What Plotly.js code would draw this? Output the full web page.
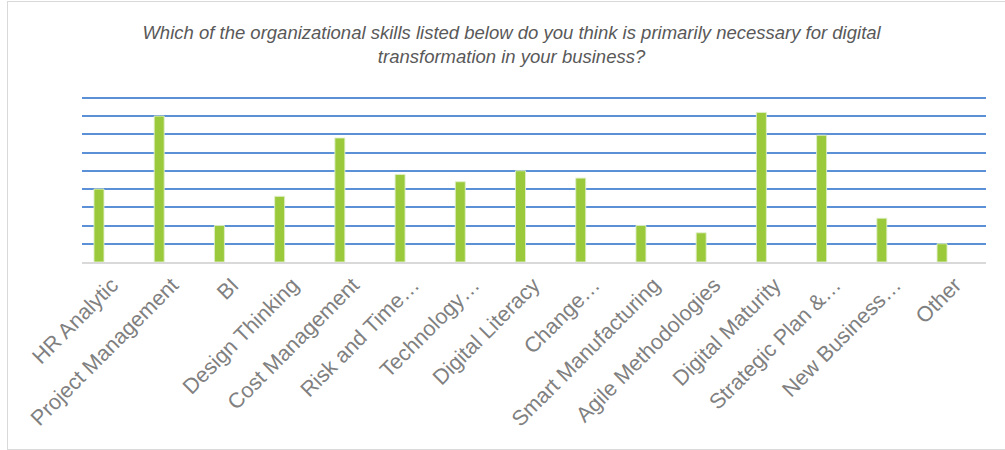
<!DOCTYPE html>
<html>
<head>
<meta charset="utf-8">
<script src="https://cdn.plot.ly/plotly-3.0.1.min.js"></script>
<style>
  html, body { margin: 0; padding: 0; background: #ffffff; }
  #frame { position: absolute; left: 7px; top: 1px; width: 1020px; height: 449px; border: 1.5px solid #d9d9d9; box-sizing: border-box; }
  #chart { position: absolute; left: 0; top: 0; width: 1005px; height: 450px; }
</style>
</head>
<body>
<div id="frame"></div>
<div id="chart"></div>
<script>
const categories = [
  "HR Analytic", "Project Management", "BI", "Design Thinking", "Cost Management",
  "Risk and Time\u2026", "Technology\u2026", "Digital Literacy", "Change\u2026",
  "Smart Manufacturing", "Agile Methodologies", "Digital Maturity",
  "Strategic Plan &\u2026", "New Business\u2026", "Other"
];
const values = [4.0, 8.0, 2.0, 3.6, 6.8, 4.8, 4.4, 5.0, 4.6, 2.0, 1.6, 8.2, 6.95, 2.4, 1.0];
const gridValues = [1, 2, 3, 4, 5, 6, 7, 8, 9];
const titleText = "Which of the organizational skills listed below do you think is primarily necessary for digital<br>transformation in your business?";

const trace = {
  type: "bar",
  x: categories,
  y: values,
  marker: { color: "#9aca3c", line: { color: "rgba(225,240,200,0.9)", width: 1 } },
  hoverinfo: "x+y"
};

const layout = {
  width: 1005,
  height: 450,
  paper_bgcolor: "rgba(0,0,0,0)",
  plot_bgcolor: "rgba(0,0,0,0)",
  margin: { l: 82, r: 19, t: 95.5, b: 188 },
  bargap: 0.834,
  showlegend: false,
  title: {
    text: titleText,
    font: { family: "Liberation Sans, Arial, sans-serif", size: 18.5, color: "#595959", style: "italic" },
    x: 0.509, xref: "container", xanchor: "center",
    y: 0.913, yref: "container", yanchor: "top"
  },
  xaxis: {
    type: "category",
    range: [-0.282, 14.73],
    tickangle: -45,
    ticklabelshift: 13,
    showline: true, linecolor: "#d9d9d9", linewidth: 2,
    showgrid: false, ticks: "",
    tickfont: { family: "Liberation Sans, Arial, sans-serif", size: 21.5, color: "#808080" },
    fixedrange: true
  },
  yaxis: {
    range: [0, 9.1],
    tickmode: "array",
    tickvals: gridValues,
    showticklabels: false,
    showgrid: true, gridcolor: "#5b8fd6", gridwidth: 2,
    zeroline: false, showline: false, ticks: "",
    fixedrange: true
  }
};

Plotly.newPlot("chart", [trace], layout, { displayModeBar: false, staticPlot: true });
</script>
</body>
</html>
